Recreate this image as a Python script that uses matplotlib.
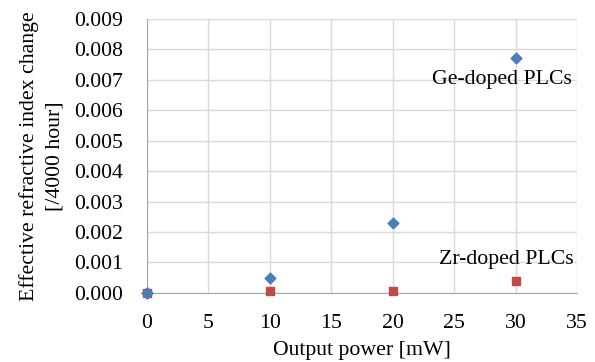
import matplotlib
matplotlib.use("Agg")
import matplotlib.pyplot as plt

power = [0, 10, 20, 30]
ge_doped = [0.0, 0.0005, 0.0023, 0.0077]
zr_doped = [0.0, 0.00005, 0.00005, 0.0004]
xticks = [0, 5, 10, 15, 20, 25, 30, 35]
yticks = [0.000, 0.001, 0.002, 0.003, 0.004, 0.005, 0.006, 0.007, 0.008, 0.009]

FS = 15.7
plt.rcParams['font.family'] = ['Liberation Serif', 'DejaVu Serif']
fig = plt.figure(figsize=(5.95, 3.62), dpi=100)
ax = fig.add_axes([0.247, 0.191, 0.723, 0.757])

ax.scatter(power, ge_doped, marker='D', s=30, color='#4a7ebb', zorder=3, clip_on=False)
ax.scatter(power, zr_doped, marker='s', s=30, color='#be4b48', zorder=3, clip_on=False)
ax.scatter(power[:1], ge_doped[:1], marker='D', s=30, color='#4a7ebb', zorder=4, clip_on=False)

ax.set_xlim(0, 35)
ax.set_ylim(0, 0.009)
ax.set_xticks(xticks)
ax.set_yticks(yticks)
ax.set_yticklabels([f"{v:.3f}" for v in yticks])
ax.grid(True, color='#d9d9d9', linewidth=1)
ax.set_axisbelow(True)
for s in ['top', 'right']:
    ax.spines[s].set_visible(False)
for s in ['left', 'bottom']:
    ax.spines[s].set_color('#a6a6a6')
ax.tick_params(axis='both', length=0, labelsize=FS)
ax.tick_params(axis='y', pad=17)
ax.tick_params(axis='x', pad=15)

ax.set_xlabel('Output power [mW]', fontsize=FS, labelpad=6)
ax.set_ylabel('Effective refractive index change\n[/4000 hour]', fontsize=FS, linespacing=1.5, labelpad=7)

ax.text(34.6, 0.0070, 'Ge-doped PLCs', fontsize=FS, ha='right', va='center')
ax.text(34.7, 0.00108, 'Zr-doped PLCs', fontsize=FS, ha='right', va='center')

fig.savefig('out.png', dpi=100)
